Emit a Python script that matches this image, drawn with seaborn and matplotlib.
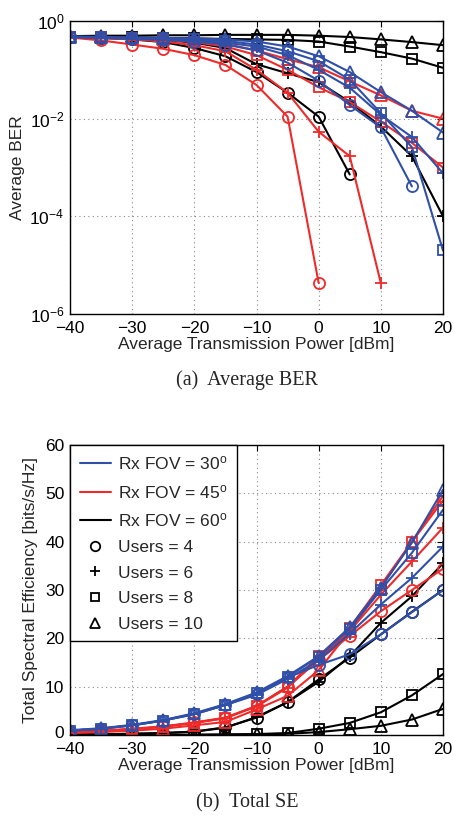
import numpy as np
import pandas as pd
import matplotlib
matplotlib.use("Agg")
import matplotlib.pyplot as plt
import matplotlib.transforms as mtransforms
from matplotlib.lines import Line2D
import seaborn as sns

nan = np.nan
power = [-40, -35, -30, -25, -20, -15, -10, -5, 0, 5, 10, 15, 20]
fovs = [30, 45, 60]
users = [4, 6, 8, 10]

# Average BER  (FOV, users)
ber_30_4 = [0.47, 0.45, 0.43, 0.41, 0.38, 0.33, 0.25, 0.14, 0.06, 0.019, 0.0066, 0.00041, nan]
ber_30_6 = [0.47, 0.46, 0.44, 0.42, 0.40, 0.36, 0.30, 0.20, 0.10, 0.043, 0.012, 0.0042, 0.00076]
ber_30_8 = [0.48, 0.47, 0.45, 0.44, 0.42, 0.39, 0.33, 0.24, 0.15, 0.063, 0.013, 0.0026, 0.00002]
ber_30_10 = [0.48, 0.47, 0.46, 0.45, 0.44, 0.42, 0.38, 0.30, 0.19, 0.09, 0.035, 0.0145, 0.0052]
ber_45_4 = [0.46, 0.40, 0.33, 0.27, 0.20, 0.126, 0.049, 0.011, 4.3e-6, nan, nan, nan, nan]
ber_45_6 = [0.47, 0.45, 0.42, 0.38, 0.32, 0.24, 0.10, 0.034, 0.0054, 0.0017, 4.3e-6, nan, nan]
ber_45_8 = [0.47, 0.46, 0.44, 0.41, 0.37, 0.30, 0.20, 0.10, 0.044, 0.022, 0.0087, 0.0032, 0.001]
ber_45_10 = [0.47, 0.46, 0.45, 0.43, 0.40, 0.34, 0.25, 0.165, 0.113, 0.058, 0.03, 0.0145, 0.01]
ber_60_4 = [0.47, 0.45, 0.42, 0.37, 0.28, 0.19, 0.09, 0.034, 0.011, 0.00072, nan, nan, nan]
ber_60_6 = [0.47, 0.46, 0.44, 0.41, 0.36, 0.28, 0.13, 0.085, 0.056, 0.022, 0.0069, 0.0017, 0.0001]
ber_60_8 = [0.48, 0.47, 0.46, 0.45, 0.44, 0.43, 0.42, 0.41, 0.38, 0.30, 0.23, 0.17, 0.11]
ber_60_10 = [0.49, 0.50, 0.50, 0.51, 0.51, 0.52, 0.52, 0.52, 0.50, 0.47, 0.42, 0.37, 0.32]

# Total spectral efficiency [bits/s/Hz]
se_30_4 = [0.9, 1.3, 2.0, 3.0, 4.3, 6.2, 8.5, 11.9, 14.5, 16.7, 20.8, 25.4, 30.0]
se_30_6 = [0.9, 1.3, 2.0, 3.0, 4.3, 6.2, 8.3, 11.6, 15.5, 21.0, 27.0, 32.5, 39.0]
se_30_8 = [0.9, 1.3, 2.0, 3.0, 4.4, 6.3, 8.6, 12.0, 16.2, 22.0, 30.0, 37.7, 46.6]
se_30_10 = [1.0, 1.4, 2.1, 3.1, 4.5, 6.4, 8.8, 12.2, 16.3, 22.3, 30.5, 39.8, 50.7]
se_45_4 = [0.6, 0.9, 1.3, 1.8, 2.6, 3.6, 6.0, 10.0, 15.5, 20.5, 25.6, 30.0, 34.4]
se_45_6 = [0.5, 0.8, 1.2, 1.7, 2.5, 3.5, 5.9, 9.8, 15.8, 21.5, 29.0, 35.9, 42.9]
se_45_8 = [0.5, 0.8, 1.2, 1.7, 2.5, 3.5, 6.0, 10.0, 16.3, 22.2, 31.0, 40.0, 48.5]
se_45_10 = [0.4, 0.6, 0.9, 1.3, 2.0, 2.7, 5.3, 8.1, 13.4, 21.5, 30.5, 40.0, 49.5]
se_60_4 = [0.1, 0.15, 0.25, 0.4, 0.7, 1.6, 3.6, 6.8, 11.5, 16.0, 20.8, 25.5, 30.0]
se_60_6 = [0.1, 0.15, 0.25, 0.4, 0.7, 1.5, 3.7, 6.8, 11.0, 16.3, 23.2, 28.7, 35.5]
se_60_8 = [0.0, 0.0, 0.0, 0.0, 0.05, 0.1, 0.2, 0.4, 1.3, 2.5, 4.7, 8.2, 12.6]
se_60_10 = [0.0, 0.0, 0.0, 0.0, 0.05, 0.1, 0.15, 0.25, 0.6, 1.2, 1.9, 3.2, 5.4]

ber = {(30, 4): ber_30_4, (30, 6): ber_30_6, (30, 8): ber_30_8, (30, 10): ber_30_10,
       (45, 4): ber_45_4, (45, 6): ber_45_6, (45, 8): ber_45_8, (45, 10): ber_45_10,
       (60, 4): ber_60_4, (60, 6): ber_60_6, (60, 8): ber_60_8, (60, 10): ber_60_10}
se = {(30, 4): se_30_4, (30, 6): se_30_6, (30, 8): se_30_8, (30, 10): se_30_10,
      (45, 4): se_45_4, (45, 6): se_45_6, (45, 8): se_45_8, (45, 10): se_45_10,
      (60, 4): se_60_4, (60, 6): se_60_6, (60, 8): se_60_8, (60, 10): se_60_10}

colors = {30: "#2f4fa8", 45: "#ee2a2a", 60: "#000000"}
marker_map = {4: "o", 6: "+", 8: "s", 10: "^"}
msize = {4: 8, 6: 9, 8: 7, 10: 8.5}

sns.set_theme(style="white")
plt.rcParams["font.family"] = ["Liberation Sans", "DejaVu Sans"]
plt.rcParams["mathtext.fontset"] = "custom"
plt.rcParams["mathtext.rm"] = "Liberation Sans"
plt.rcParams["mathtext.it"] = "Liberation Sans:italic"

def long_frame(store):
    rows = []
    for (f, u), vals in store.items():
        for p, v in zip(power, vals):
            if not np.isnan(v):
                rows.append({"P": p, "val": v, "FOV": f, "Users": u})
    return pd.DataFrame(rows)

fig = plt.figure(figsize=(4.54, 8.15), dpi=100)
ax1 = fig.add_axes([70 / 454, 1 - 314 / 815, 373 / 454, 293 / 815])
ax2 = fig.add_axes([70 / 454, 1 - 735 / 815, 373 / 454, 290 / 815])

def draw(ax, store):
    df = long_frame(store)
    for f in [60, 45, 30]:
        for u in users:
            sub = df[(df.FOV == f) & (df.Users == u)]
            sns.lineplot(data=sub, x="P", y="val", ax=ax, color=colors[f],
                         marker=marker_map[u], markersize=msize[u],
                         markerfacecolor="none", markeredgecolor=colors[f],
                         markeredgewidth=1.3, linewidth=1.5, legend=False,
                         errorbar=None, sort=True)

draw(ax1, ber)
draw(ax2, se)

for ax in (ax1, ax2):
    ax.set_xlim(-40, 20)
    ax.set_xticks([-40, -30, -20, -10, 0, 10, 20])
    ax.grid(True, linestyle=(0, (1, 3)), color="#888888", linewidth=0.8)
    ax.tick_params(direction="in", top=True, right=True, length=4, width=0.8,
                   labelsize=12.5, colors="black")
    ax.tick_params(axis="x", pad=5)
    ax.tick_params(axis="y", pad=4)
    for s in ax.spines.values():
        s.set_color("black")
        s.set_linewidth(1.0)
    ax.set_xlabel("Average Transmission Power [dBm]", fontsize=12.5, labelpad=1)

ax1.set_yscale("log")
ax1.set_ylim(1e-6, 1)
ax1.set_yticks([1e-6, 1e-4, 1e-2, 1])
ax1.set_yticklabels([r"$10^{-6}$", r"$10^{-4}$", r"$10^{-2}$", r"$10^{0}$"])
ax1.yaxis.set_minor_locator(matplotlib.ticker.NullLocator())
ax1.set_ylabel("Average BER", fontsize=12.5, labelpad=3)

ax2.set_ylim(0, 60)
ax2.set_yticks([0, 10, 20, 30, 40, 50, 60])
ax2.set_ylabel("Total Spectral Efficiency [bits/s/Hz]", fontsize=12.5, labelpad=5)

# nudge the bottom-most y tick label of the SE axes up a little
lbl0 = ax2.get_yticklabels()[0]
lbl0.set_transform(lbl0.get_transform() + mtransforms.ScaledTranslation(0, 3 / 100, fig.dpi_scale_trans))

handles = [Line2D([], [], color=colors[f], lw=1.5) for f in fovs]
labels = [r"Rx FOV = 30$^{\mathrm{o}}$", r"Rx FOV = 45$^{\mathrm{o}}$", r"Rx FOV = 60$^{\mathrm{o}}$"]
for u in users:
    handles.append(Line2D([], [], color="black", ls="none", marker=marker_map[u],
                          markersize=msize[u] * 0.85, mfc="none", mec="black", mew=1.3))
    labels.append(f"Users = {u}")
leg = ax2.legend(handles, labels, loc="upper left", borderaxespad=0, fontsize=12.5,
                 frameon=True, fancybox=False, edgecolor="black", framealpha=1,
                 handlelength=1.8, handletextpad=0.4, labelspacing=0.6,
                 borderpad=0.55)
leg.get_frame().set_linewidth(1.0)

fig.text(247 / 454, 1 - 380 / 815, "(a)  Average BER", ha="center", va="center",
         family="Liberation Serif", fontsize=14.5)
fig.text(247 / 454, 1 - 803 / 815, "(b)  Total SE", ha="center", va="center",
         family="Liberation Serif", fontsize=14.5)

fig.savefig("out.png", dpi=100)
